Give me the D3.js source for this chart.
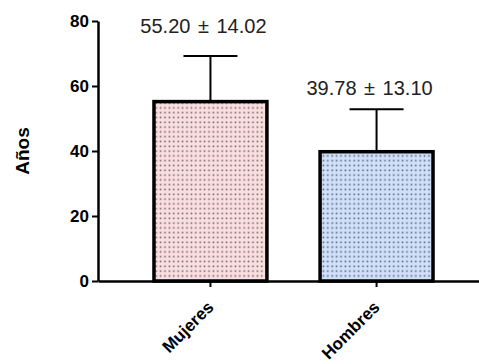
<!DOCTYPE html>
<html>
<head>
<meta charset="utf-8">
<script src="https://cdn.jsdelivr.net/npm/d3@7"></script>
<style>
  body { margin: 0; background: #fff; }
  text { font-family: Arial, "Liberation Sans", sans-serif; }
</style>
</head>
<body>
<svg width="479" height="364"></svg>
<script>
const groups = ['Mujeres', 'Hombres'];
const means = [55.20, 39.78];
const sds = [14.02, 13.10];
const labels = ['55.20 ± 14.02', '39.78 ± 13.10'];
const yTickValues = [0, 20, 40, 60, 80];
const yLabel = 'Años';

const fills = ['#fbdfe0', '#cfe0f8'];
const dotColors = ['#6f6466', '#56657f'];
const labelGap = [23, 14];

const svg = d3.select('svg');
const margin = { left: 98, top: 21, bottom: 83 };
const height = +svg.attr('height');

const yScale = d3.scaleLinear()
    .domain([0, 80])
    .range([height - margin.bottom, margin.top]);

const xScale = d3.scaleBand()
    .domain(groups)
    .range([margin.left, 489])
    .paddingInner(0.32)
    .paddingOuter(0.337);

// dot patterns
const defs = svg.append('defs');
groups.forEach((g, i) => {
    const p = defs.append('pattern')
        .attr('id', 'dots' + i)
        .attr('patternUnits', 'userSpaceOnUse')
        .attr('width', 4.4)
        .attr('height', 4.8);
    p.append('rect').attr('width', 4.4).attr('height', 4.8).attr('fill', fills[i]);
    p.append('rect').attr('x', 1.4).attr('y', 1.5)
        .attr('width', 1.6).attr('height', 1.6).attr('fill', dotColors[i]);
});

const y0 = yScale(0);

// error bars
const capW = 54;
groups.forEach((g, i) => {
    const cx = xScale(g) + xScale.bandwidth() / 2;
    const top = yScale(means[i] + sds[i]);
    svg.append('line')
        .attr('x1', cx).attr('x2', cx)
        .attr('y1', yScale(means[i])).attr('y2', top)
        .attr('stroke', '#000').attr('stroke-width', 2);
    svg.append('line')
        .attr('x1', cx - capW / 2).attr('x2', cx + capW / 2)
        .attr('y1', top).attr('y2', top)
        .attr('stroke', '#000').attr('stroke-width', 2);
    svg.append('text')
        .attr('x', cx - 7)
        .attr('y', top - labelGap[i])
        .attr('text-anchor', 'middle')
        .style('font-size', '20px')
        .style('word-spacing', '2px')
        .attr('fill', '#222')
        .text(labels[i]);
});

// bars
svg.selectAll('.bar')
    .data(groups)
    .enter().append('rect')
    .attr('class', 'bar')
    .attr('x', d => xScale(d))
    .attr('y', (d, i) => yScale(means[i]))
    .attr('width', xScale.bandwidth())
    .attr('height', (d, i) => y0 - yScale(means[i]))
    .attr('fill', (d, i) => `url(#dots${i})`)
    .attr('stroke', '#000')
    .attr('stroke-width', 3.5);

// axes
const yAxis = d3.axisLeft(yScale)
    .tickValues(yTickValues)
    .tickSize(6)
    .tickSizeOuter(0)
    .tickPadding(3);

const yAxisG = svg.append('g')
    .attr('transform', `translate(${margin.left},0)`)
    .call(yAxis);
yAxisG.select('.domain').attr('stroke-width', 2.5);
yAxisG.selectAll('.tick line').attr('stroke-width', 2);
yAxisG.selectAll('.tick text')
    .style('font-size', '17px')
    .style('font-weight', 'bold')
    .attr('fill', '#000');

const xAxis = d3.axisBottom(xScale)
    .tickSize(6)
    .tickSizeOuter(0);

const xAxisG = svg.append('g')
    .attr('transform', `translate(0,${y0})`)
    .call(xAxis);
xAxisG.select('.domain').attr('stroke-width', 2.5);
xAxisG.selectAll('.tick line').attr('stroke-width', 2);
xAxisG.selectAll('.tick text')
    .style('font-size', '17px')
    .style('font-weight', 'bold')
    .attr('fill', '#000')
    .attr('text-anchor', 'end')
    .attr('dy', '0.35em')
    .attr('transform', 'translate(0,23) rotate(-45)')
    .attr('y', 0)
    .attr('x', 0);

svg.append('text')
    .attr('transform', `translate(29,${(yScale(0) + yScale(80)) / 2}) rotate(-90)`)
    .attr('text-anchor', 'middle')
    .style('font-size', '19px')
    .style('font-weight', 'bold')
    .text(yLabel);
</script>
</body>
</html>
